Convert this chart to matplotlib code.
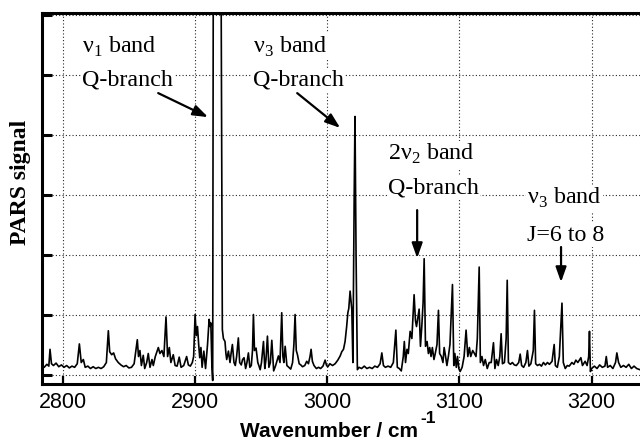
import matplotlib
matplotlib.use("Agg")
import matplotlib.pyplot as plt

plt.rcParams['mathtext.fontset'] = 'custom'
plt.rcParams['mathtext.rm'] = 'Liberation Serif'
plt.rcParams['mathtext.bf'] = 'Liberation Sans:bold'

# ---- data ----
wavenumber = [
    2784, 2786, 2788, 2789.5, 2790.4, 2791.5, 2793, 2795, 2797, 2799, 2801, 2803, 2805, 2807, 2809, 2811,
    2812.6, 2814, 2815.6, 2817, 2819, 2821, 2823, 2825, 2827, 2829, 2831, 2833, 2834.5, 2835.5, 2837,
    2838.5, 2840, 2842, 2844, 2846, 2848, 2850, 2852, 2854, 2856.4, 2857.3, 2858.4, 2859.5, 2860.9,
    2862, 2863.5, 2864.7, 2866, 2867.5, 2868.5, 2870, 2872.3, 2873.5, 2875, 2876.5, 2878.1, 2879.3,
    2880.6, 2881.8, 2883.6, 2885, 2886.5, 2888.1, 2889.5, 2891.5, 2893.7, 2895, 2896.5, 2898, 2899,
    2900.1, 2901, 2901.9, 2902.8, 2903.6, 2904.5, 2905.4, 2906.7, 2908, 2909.5, 2910.7, 2911.5, 2912,
    2912.8, 2913.4, 2913.9, 2919.6, 2920.7, 2921.5, 2922.7, 2923.4, 2924, 2925.3, 2926.5, 2927.3,
    2928.3, 2929.5, 2930.5, 2931.5, 2932.8, 2933.8, 2935, 2936, 2937.1, 2938.3, 2939.3, 2940.4,
    2941.5, 2942.6, 2943.5, 2944.2, 2945, 2946.2, 2947.5, 2948.3, 2949.3, 2950.3, 2951.8, 2952.8,
    2953.7, 2954.8, 2955.9, 2957, 2958.1, 2959.5, 2961, 2963.1, 2964.3, 2965.6, 2966.5, 2967.2,
    2968.2, 2969.5, 2971, 2972.4, 2973.8, 2974.8, 2975.7, 2976.6, 2977.5, 2978.8, 2980, 2981.3, 2983,
    2984.5, 2985.8, 2987, 2987.8, 2988.8, 2990, 2991.8, 2993.5, 2995, 2996.8, 2998.4, 2999.5, 3000.5,
    3002, 3004, 3006, 3008, 3009.8, 3011, 3012.3, 3013.5, 3014.7, 3015.6, 3016.3, 3017.3, 3018.6,
    3019.4, 3020.4, 3021, 3021.8, 3022.8, 3024, 3026, 3028, 3030, 3032, 3034, 3036, 3038, 3040,
    3041.3, 3042.5, 3044, 3046, 3048, 3050, 3051.9, 3053, 3054.5, 3056, 3057.5, 3058.3, 3059.2,
    3060.3, 3061.3, 3062.7, 3064, 3065.7, 3066.7, 3067.5, 3068.5, 3069.5, 3070.5, 3071.5, 3072.5,
    3073.3, 3074.3, 3075.5, 3076.5, 3077.5, 3078.5, 3079.5, 3080.7, 3081.5, 3083, 3084.1, 3085,
    3086.3, 3087.5, 3088.4, 3089.5, 3090.5, 3091.6, 3092.8, 3094.7, 3095.7, 3096.5, 3097.6, 3098.5,
    3099.5, 3100.5, 3102, 3103.5, 3105, 3106.3, 3107.5, 3108.5, 3110, 3111.3, 3112.5, 3113.5, 3114.9,
    3115.8, 3117, 3118.2, 3119.5, 3121, 3122.5, 3124, 3125.7, 3126.8, 3128, 3129.3, 3130.5, 3131.5,
    3132.5, 3134, 3135.3, 3136.1, 3137, 3138.5, 3140, 3141.5, 3143, 3144.8, 3145.9, 3147, 3148.5,
    3150.2, 3151.4, 3152.5, 3154, 3155.8, 3156.7, 3157.6, 3159, 3160.5, 3162, 3163.5, 3165, 3166.5,
    3168, 3170, 3171.6, 3172.5, 3174, 3175.5, 3177.5, 3178.5, 3180, 3181.5, 3183, 3185, 3186.5,
    3188, 3189.5, 3191.8, 3193, 3195, 3196.5, 3197.7, 3198.3, 3199, 3200, 3202, 3204, 3206, 3208,
    3210, 3211, 3212, 3214, 3216, 3218, 3219, 3220.3, 3222, 3224, 3226, 3228, 3230, 3232, 3234, 3236.5,
]
pars_signal = [
    0.15, 0.12, 0.17, 0.14, 0.42, 0.18, 0.15, 0.19, 0.13, 0.16, 0.12, 0.15, 0.11, 0.14, 0.12, 0.18,
    0.51, 0.20, 0.25, 0.12, 0.14, 0.10, 0.13, 0.10, 0.12, 0.10, 0.13, 0.20, 0.73, 0.38, 0.33,
    0.36, 0.26, 0.20, 0.16, 0.13, 0.15, 0.11, 0.12, 0.18, 0.58, 0.30, 0.40, 0.15, 0.32,
    0.10, 0.20, 0.35, 0.12, 0.25, 0.15, 0.30, 0.45, 0.35, 0.40, 0.30, 0.96, 0.30,
    0.45, 0.20, 0.33, 0.15, 0.14, 0.29, 0.12, 0.15, 0.30, 0.16, 0.14, 0.20, 0.30,
    1.00, 0.65, 0.80, 0.50, 0.28, 0.45, 0.12, 0.39, 0.10, 0.50, 0.92, 0.80, 0.86,
    0.14, -0.10, 7.50, 7.50, 0.75, 0.60, 0.55, 0.35, 0.25, 0.39, 0.20, 0.35,
    0.50, 0.20, 0.15, 0.30, 0.61, 0.20, 0.16, 0.25, 0.28, 0.10, 0.20, 0.36,
    0.12, 0.15, 0.40, 1.00, 0.40, 0.44, 0.20, 0.15, 0.08, 0.20, 0.55, 0.10,
    0.25, 0.64, 0.12, 0.20, 0.57, 0.06, 0.15, 0.31, 0.20, 1.03, 0.30, 0.20,
    0.47, 0.15, 0.12, 0.09, 0.20, 0.50, 1.00, 0.40, 0.33, 0.18, 0.16, 0.13, 0.15,
    0.22, 0.18, 0.30, 0.42, 0.22, 0.15, 0.10, 0.12, 0.10, 0.14, 0.24, 0.15, 0.13,
    0.18, 0.15, 0.18, 0.24, 0.31, 0.38, 0.42, 0.55, 0.80, 1.03, 1.10, 1.39, 1.08,
    0.20, 3.00, 4.30, 2.00, 0.08, 0.12, 0.10, 0.14, 0.10, 0.12, 0.10, 0.14, 0.12, 0.18,
    0.36, 0.15, 0.12, 0.14, 0.12, 0.20, 0.74, 0.12, 0.10, 0.06, 0.30, 0.55, 0.20,
    0.42, 0.35, 0.72, 0.60, 1.33, 0.90, 0.80, 0.95, 1.09, 0.47, 0.80, 1.20,
    1.93, 0.47, 0.55, 0.35, 0.45, 0.30, 0.45, 0.25, 0.33, 0.50, 1.07, 0.35,
    0.30, 0.20, 0.45, 0.30, 0.15, 0.30, 0.50, 1.50, 0.15, 0.35, 0.12, 0.30,
    0.10, 0.05, 0.12, 0.30, 0.74, 0.30, 0.45, 0.30, 0.40, 0.35, 0.30, 0.60, 1.79,
    0.20, 0.30, 0.15, 0.25, 0.10, 0.20, 0.20, 0.53, 0.10, 0.25, 0.15, 0.30, 0.68,
    0.18, 0.20, 0.60, 1.57, 0.20, 0.17, 0.20, 0.16, 0.15, 0.20, 0.34, 0.15, 0.12,
    0.20, 0.40, 0.14, 0.18, 0.40, 1.07, 0.18, 0.15, 0.17, 0.14, 0.20, 0.16, 0.20,
    0.17, 0.22, 0.50, 0.15, 0.12, 0.30, 1.19, 0.20, 0.10, 0.15, 0.14, 0.20, 0.17,
    0.24, 0.20, 0.28, 0.15, 0.22, 0.15, 0.30, 0.72, 0.05, 0.10, 0.14, 0.10, 0.16, 0.12,
    0.14, 0.30, 0.12, 0.15, 0.10, 0.20, 0.36, 0.20, 0.12, 0.15, 0.12, 0.17, 0.10, 0.14, 0.10, 0.08,
]
x_ticks = [2800, 2900, 3000, 3100, 3200]
x_tick_labels = ["2800", "2900", "3000", "3100", "3200"]
y_ticks = [0, 1, 2, 3, 4, 5, 6]

fig = plt.figure(figsize=(6.4, 4.41), dpi=100)
ax = fig.add_axes([41.5 / 640, 1 - 383.7 / 441, 1 - 41.5 / 640, (383.7 - 13.3) / 441])

ax.plot(wavenumber, pars_signal, color='black', lw=1.2, zorder=2.5)

ax.set_xlim(2783.96, 3236.5)
ax.set_ylim(-0.153, 6.02)

ax.set_xticks(x_ticks)
ax.set_xticklabels(x_tick_labels, fontfamily='Liberation Sans', fontsize=15.5)
ax.set_yticks(y_ticks)
ax.set_yticklabels([])
ax.tick_params(axis='x', direction='in', length=5.8, width=1.6, pad=6)
ax.tick_params(axis='y', direction='in', length=7.2, width=2.2)
ax.grid(True, color='0.15', lw=0.8, linestyle=(0, (1, 2)), zorder=1)
ax.set_axisbelow(True)

for side in ('left', 'top', 'bottom'):
    ax.spines[side].set_linewidth(2.2)
ax.spines['right'].set_visible(False)

fig.text(21 / 640, 1 - 182.6 / 441, 'PARS signal', rotation=90, ha='center', va='center',
         fontfamily='Liberation Serif', fontweight='bold', fontsize=17)
fig.text(239.5 / 640, (441 - 437) / 441, 'Wavenumber / cm', ha='left', va='baseline',
         fontfamily='Liberation Sans', fontweight='bold', fontsize=15)
fig.text(420 / 640, (441 - 423) / 441, '-1', ha='left', va='baseline',
         fontfamily='Liberation Sans', fontweight='bold', fontsize=12.5)

tkw = dict(fontfamily='Liberation Serif', fontsize=17.3, ha='left', va='baseline', zorder=4,
           bbox=dict(facecolor='white', edgecolor='none', pad=1.0))
ax.text(2814.6, 5.37, r'ν$_\mathrm{1}$ band', **tkw)
ax.text(2814.6, 4.82, 'Q-branch', **tkw)
ax.text(2943.9, 5.37, r'ν$_\mathrm{3}$ band', **tkw)
ax.text(2943.9, 4.82, 'Q-branch', **tkw)
ax.text(3046.0, 3.575, r'2ν$_\mathrm{2}$ band', **tkw)
ax.text(3046.0, 3.025, 'Q-branch', **tkw)
ax.text(3151.2, 2.84, r'ν$_\mathrm{3}$ band', **tkw)
ax.text(3151.2, 2.23, 'J=6 to 8', **tkw)

akw = dict(arrowstyle='-|>,head_length=0.45,head_width=0.16', color='black', lw=1.6,
           mutation_scale=20, shrinkA=0, shrinkB=0)
for tail, head in [((2872.2, 4.69), (2909.9, 4.29)),
                   ((2977.3, 4.69), (3009.8, 4.11)),
                   ((3068.0, 2.74), (3068.0, 1.94)),
                   ((3176.8, 2.125), (3176.8, 1.54))]:
    ax.annotate('', xy=head, xytext=tail, arrowprops=akw, zorder=5)

fig.savefig('out.png', dpi=100)
